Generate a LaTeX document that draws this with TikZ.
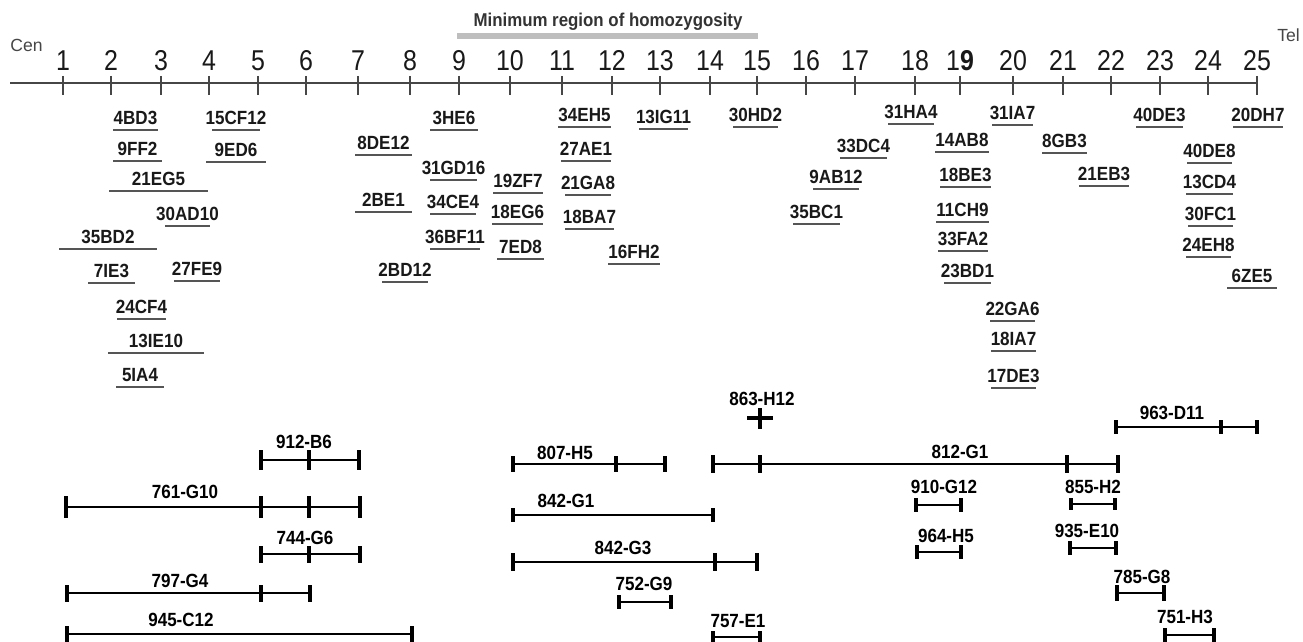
\documentclass[tikz,border=0pt]{standalone}
\usepackage{fontspec}
\setmainfont{Liberation Sans}
\usepackage{xcolor}
\usepackage{graphicx}
\usepackage{tikz}
\usetikzlibrary{arrows.meta}

\definecolor{axisgray}{RGB}{70,70,70}
\definecolor{ulgray}{RGB}{85,85,85}
\definecolor{mrhgray}{RGB}{190,190,190}

\tikzset{
  tall/.style={execute at begin node={\setbox0=\hbox\bgroup},
    execute at end node={\egroup\scalebox{1}[#1]{\box0}}},
  num/.style={anchor=base, inner sep=0pt, font=\fontsize{14.2}{17}\selectfont, text=black!90, tall=1.15},
  axtick/.style={draw=axisgray, line width=0.9pt},
  ul/.style={draw=ulgray, line width=1.5pt},
  sts/.style={midway, anchor=base, yshift=3.3pt, inner sep=0pt, font=\fontsize{9.7}{11}\selectfont\bfseries, text=black!90, tall=1.12},
  clonelab/.style={anchor=base, inner sep=0pt, font=\fontsize{9.7}{11}\selectfont\bfseries, tall=1.12},
  pacline/.style={line width=1.7pt},
  pactick/.style={line width=2.3pt},
}

\begin{document}
\begin{tikzpicture}[x=0.02cm, y=-0.02cm]

\fill[white] (0,0) rectangle (1303,642);
\useasboundingbox (0,0) rectangle (1303,642);

%%    AXIS    %%
\coordinate (cen) at (10,83);
\coordinate (tel) at (1258,83);
\draw[axisgray, line width=1.1pt] (cen) -- (tel);
\node[anchor=base west, inner sep=0pt, font=\fontsize{10}{12}\selectfont, text=axisgray] (cenlab) at (10,52) {Cen};
\node[anchor=base west, inner sep=0pt, font=\fontsize{10}{12}\selectfont, text=axisgray] (tellab) at (1277,42) {Tel};
\foreach \i/\x in {1/63,2/111,3/161,4/209,5/258,6/306,7/358,8/410,9/459,10/510,11/562,12/612,13/660,
  14/710,15/757,16/806,17/855,18/915,19/960,20/1013,21/1063,22/1111,23/1160,24/1208,25/1257}
  \draw[axtick] (\x,76) -- (\x,95);
\foreach \i/\x in {1/63,2/111,3/161,4/209,5/258,6/306,7/358,8/410,9/459,10/510,11/562,12/612,13/660,
  14/710,15/757,16/806,17/855,18/915,20/1013,21/1063,22/1111,23/1160,24/1208,25/1257}
  \node[num] (n\i) at (\x,71) {\i};
\node[num] (n19) at (960,71) {1\textbf{9}};

%%    MINIMUM REGION    %%
\node[anchor=base, inner sep=0pt, font=\fontsize{9.6}{11}\selectfont\bfseries, text=black!80, tall=1.1] (mrh) at (608,27) {Minimum region of homozygosity};
\draw[mrhgray, line width=3.4pt] (457,36) -- (758,36);

%%    MARKERS    %%
\draw[ul] (113,130) -- (158,130) node[sts] (m4BD3) {4BD3};
\draw[ul] (212,130) -- (260,130) node[sts] (m15CF12) {15CF12};
\draw[ul] (113,161) -- (162,161) node[sts] (m9FF2) {9FF2};
\draw[ul] (206,162) -- (266,162) node[sts] (m9ED6) {9ED6};
\draw[ul] (109,191) -- (208,191) node[sts] (m21EG5) {21EG5};
\draw[ul] (165,226) -- (210,226) node[sts] (m30AD10) {30AD10};
\draw[ul] (59,249) -- (157,249) node[sts] (m35BD2) {35BD2};
\draw[ul] (88,283) -- (135,283) node[sts] (m7IE3) {7IE3};
\draw[ul] (174,281) -- (220,281) node[sts] (m27FE9) {27FE9};
\draw[ul] (117,319) -- (166,319) node[sts] (m24CF4) {24CF4};
\draw[ul] (108,353) -- (204,353) node[sts] (m13IE10) {13IE10};
\draw[ul] (116,387) -- (164,387) node[sts] (m5IA4) {5IA4};
\draw[ul] (355,155) -- (412,155) node[sts] (m8DE12) {8DE12};
\draw[ul] (355,212) -- (412,212) node[sts] (m2BE1) {2BE1};
\draw[ul] (382,282) -- (428,282) node[sts] (m2BD12) {2BD12};
\draw[ul] (430,130) -- (478,130) node[sts] (m3HE6) {3HE6};
\draw[ul] (430,180) -- (477,180) node[sts] (m31GD16) {31GD16};
\draw[ul] (430,214) -- (476,214) node[sts] (m34CE4) {34CE4};
\draw[ul] (430,249) -- (480,249) node[sts] (m36BF11) {36BF11};
\draw[ul] (493,193) -- (543,193) node[sts] (m19ZF7) {19ZF7};
\draw[ul] (492,224) -- (543,224) node[sts] (m18EG6) {18EG6};
\draw[ul] (497,259) -- (544,259) node[sts] (m7ED8) {7ED8};
\draw[ul] (558,127) -- (611,127) node[sts] (m34EH5) {34EH5};
\draw[ul] (561,161) -- (611,161) node[sts] (m27AE1) {27AE1};
\draw[ul] (565,195) -- (611,195) node[sts] (m21GA8) {21GA8};
\draw[ul] (565,229) -- (614,229) node[sts] (m18BA7) {18BA7};
\draw[ul] (608,264) -- (660,264) node[sts] (m16FH2) {16FH2};
\draw[ul] (639,129) -- (688,129) node[sts] (m13IG11) {13IG11};
\draw[ul] (733,127) -- (778,127) node[sts] (m30HD2) {30HD2};
\draw[ul] (840,158) -- (887,158) node[sts] (m33DC4) {33DC4};
\draw[ul] (813,189) -- (859,189) node[sts] (m9AB12) {9AB12};
\draw[ul] (793,224) -- (840,224) node[sts] (m35BC1) {35BC1};
\draw[ul] (888,124) -- (934,124) node[sts] (m31HA4) {31HA4};
\draw[ul] (992,125) -- (1033,125) node[sts] (m31IA7) {31IA7};
\draw[ul] (1136,127) -- (1183,127) node[sts] (m40DE3) {40DE3};
\draw[ul] (1233,127) -- (1283,127) node[sts] (m20DH7) {20DH7};
\draw[ul] (935,152) -- (989,152) node[sts] (m14AB8) {14AB8};
\draw[ul] (1042,153) -- (1087,153) node[sts] (m8GB3) {8GB3};
\draw[ul] (940,187) -- (991,187) node[sts] (m18BE3) {18BE3};
\draw[ul] (1079,186) -- (1129,186) node[sts] (m21EB3) {21EB3};
\draw[ul] (1187,163) -- (1232,163) node[sts] (m40DE8) {40DE8};
\draw[ul] (1186,194) -- (1233,194) node[sts] (m13CD4) {13CD4};
\draw[ul] (1188,226) -- (1233,226) node[sts] (m30FC1) {30FC1};
\draw[ul] (1186,257) -- (1231,257) node[sts] (m24EH8) {24EH8};
\draw[ul] (1227,288) -- (1277,288) node[sts] (m6ZE5) {6ZE5};
\draw[ul] (936,222) -- (989,222) node[sts] (m11CH9) {11CH9};
\draw[ul] (938,251) -- (988,251) node[sts] (m33FA2) {33FA2};
\draw[ul] (944,283) -- (991,283) node[sts] (m23BD1) {23BD1};
\draw[ul] (990,321) -- (1035,321) node[sts] (m22GA6) {22GA6};
\draw[ul] (991,351) -- (1036,351) node[sts] (m18IA7) {18IA7};
\draw[ul] (991,388) -- (1036,388) node[sts] (m17DE3) {17DE3};

%%    CLONES    %%
\node[clonelab] (c912B6) at (304,448) {912-B6};
\draw[pacline] (261,460) -- (359,460);
\foreach \t in {261,309,359} \draw[pactick] (\t,450) -- (\t,470);

\node[clonelab] (c761G10) at (185,498) {761-G10};
\draw[pacline] (66,507) -- (360,507);
\foreach \t in {66,261,309,360} \draw[pactick] (\t,496) -- (\t,518);

\node[clonelab] (c744G6) at (305,544) {744-G6};
\draw[pacline] (261,554) -- (360,554);
\foreach \t in {261,309,360} \draw[pactick] (\t,546) -- (\t,563);

\node[clonelab] (c797G4) at (180,587) {797-G4};
\draw[pacline] (67,593) -- (310,593);
\foreach \t in {67,261,310} \draw[pactick] (\t,585) -- (\t,602);

\node[clonelab] (c945C12) at (181,626) {945-C12};
\draw[pacline] (67,634) -- (412,634);
\foreach \t in {67,412} \draw[pactick] (\t,626) -- (\t,642);

\node[clonelab] (c863H12) at (762,405) {863-H12};
\draw[pactick] (760,408) -- (760,429);
\draw[pactick] (747,418) -- (773,418);

\node[clonelab] (c807H5) at (565,459) {807-H5};
\draw[pacline] (513,464) -- (665,464);
\foreach \t in {513,616,665} \draw[pactick] (\t,456) -- (\t,472);

\node[clonelab] (c812G1) at (960,458) {812-G1};
\draw[pacline] (713,464) -- (1118,464);
\foreach \t in {713,760,1067,1118} \draw[pactick] (\t,455) -- (\t,473);

\node[clonelab] (c842G1) at (566,507) {842-G1};
\draw[pacline] (513,515) -- (713,515);
\foreach \t in {513,713} \draw[pactick] (\t,508) -- (\t,522);

\node[clonelab] (c842G3) at (623,554) {842-G3};
\draw[pacline] (513,562) -- (757,562);
\foreach \t in {513,715,757} \draw[pactick] (\t,553) -- (\t,571);

\node[clonelab] (c752G9) at (644,590) {752-G9};
\draw[pacline] (619,602) -- (671,602);
\foreach \t in {619,671} \draw[pactick] (\t,595) -- (\t,609);

\node[clonelab] (c757E1) at (738,627) {757-E1};
\draw[pacline] (713,637) -- (760,637);
\foreach \t in {713,760} \draw[pactick] (\t,631) -- (\t,642);

\node[clonelab] (c963D11) at (1172,419) {963-D11};
\draw[line width=1.1pt] (1116,427) -- (1257,427);
\foreach \t in {1116,1221,1257} \draw[line width=2pt] (\t,420) -- (\t,434);

\node[clonelab] (c910G12) at (944,493) {910-G12};
\draw[pacline] (916,505) -- (961,505);
\foreach \t in {916,961} \draw[pactick] (\t,498) -- (\t,512);

\node[clonelab] (c855H2) at (1093,493) {855-H2};
\draw[pacline] (1071,504) -- (1115,504);
\foreach \t in {1071,1115} \draw[pactick] (\t,498) -- (\t,510);

\node[clonelab] (c964H5) at (946,542) {964-H5};
\draw[pacline] (917,552) -- (961,552);
\foreach \t in {917,961} \draw[pactick] (\t,545) -- (\t,559);

\node[clonelab] (c935E10) at (1087,537) {935-E10};
\draw[pacline] (1070,548) -- (1116,548);
\foreach \t in {1070,1116} \draw[pactick] (\t,541) -- (\t,555);

\node[clonelab] (c785G8) at (1142,583) {785-G8};
\draw[pacline] (1117,593) -- (1164,593);
\foreach \t in {1117,1164} \draw[pactick] (\t,585) -- (\t,601);

\node[clonelab] (c751H3) at (1185,623) {751-H3};
\draw[pacline] (1165,635) -- (1214,635);
\foreach \t in {1165,1214} \draw[pactick] (\t,628) -- (\t,642);

\end{tikzpicture}
\end{document}
